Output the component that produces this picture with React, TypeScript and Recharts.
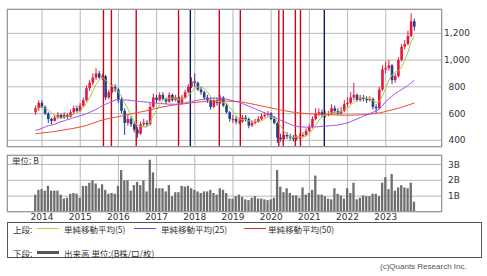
import React from "react";
import {
  ComposedChart,
  Bar,
  Line,
  XAxis,
  YAxis,
  CartesianGrid,
  ReferenceLine,
} from "recharts";

// monthly candles, first one is Nov 2013
const firstMonth = { year: 2013, month: 11 };

const opens = [
  610, 640,
  680, 650, 600, 560, 545, 570, 590, 570, 590, 575, 610, 640,
  620, 660, 700, 790, 830, 870, 900, 870, 880, 720, 760, 800,
  780, 700, 620, 530, 560, 520, 480, 450, 520, 530, 520, 650,
  720, 700, 740, 710, 690, 740, 700, 720, 680, 720, 760, 800,
  840, 830, 780, 760, 720, 700, 650, 700, 680, 720, 660, 610,
  560, 560, 540, 540, 570, 560, 510, 530, 540, 560, 580, 590,
  600, 560, 530, 420, 410, 440, 430, 420, 410, 420, 430, 440,
  470, 500, 560, 600, 610, 590, 590, 600, 640, 620, 600, 620,
  670, 680, 720, 740, 700, 720, 710, 700, 710, 650, 640, 780,
  930, 940, 960, 850, 880, 1000, 1100, 1120, 1180, 1290,
];
const closes = [
  640, 680,
  650, 600, 560, 545, 570, 590, 570, 590, 575, 610, 640, 620,
  660, 700, 790, 830, 870, 900, 870, 880, 720, 760, 800, 780,
  700, 620, 530, 560, 520, 480, 450, 520, 530, 520, 650, 720,
  700, 740, 710, 690, 740, 700, 720, 680, 720, 760, 800, 840,
  830, 780, 760, 720, 700, 650, 700, 680, 720, 660, 610, 560,
  560, 540, 540, 570, 560, 510, 530, 540, 560, 580, 590, 600,
  560, 530, 420, 410, 440, 430, 420, 410, 420, 430, 440, 470,
  500, 560, 600, 610, 590, 590, 600, 640, 620, 600, 620, 670,
  680, 720, 740, 700, 720, 710, 700, 710, 650, 640, 780, 930,
  940, 960, 850, 880, 1000, 1100, 1120, 1180, 1290, 1250,
];
const highs = [
  660, 700,
  700, 660, 610, 570, 590, 610, 600, 610, 600, 630, 660, 660,
  680, 720, 810, 850, 900, 940, 920, 900, 890, 780, 820, 820,
  790, 720, 640, 590, 580, 540, 500, 540, 560, 550, 680, 750,
  740, 760, 760, 720, 760, 750, 740, 730, 740, 780, 820, 870,
  900, 840, 800, 770, 740, 720, 720, 720, 740, 730, 680, 620,
  590, 580, 570, 590, 590, 570, 550, 560, 580, 600, 610, 620,
  610, 580, 540, 450, 460, 460, 450, 440, 440, 450, 460, 490,
  520, 580, 640, 640, 630, 620, 620, 670, 660, 640, 650, 700,
  720, 760, 830, 750, 740, 740, 730, 730, 720, 670, 800, 960,
  990, 1000, 970, 900, 1020, 1120, 1150, 1220, 1350, 1310,
];
const lows = [
  590, 620,
  640, 590, 530, 520, 540, 560, 560, 560, 560, 570, 600, 610,
  610, 650, 690, 770, 810, 850, 860, 850, 700, 710, 750, 760,
  680, 600, 440, 510, 500, 460, 420, 440, 500, 500, 510, 640,
  680, 690, 700, 670, 680, 690, 690, 670, 670, 710, 750, 790,
  800, 770, 740, 700, 680, 630, 640, 660, 670, 650, 600, 540,
  530, 520, 520, 530, 540, 490, 500, 520, 530, 550, 570, 580,
  550, 520, 380, 390, 400, 410, 400, 390, 400, 410, 420, 430,
  460, 490, 550, 580, 570, 570, 580, 590, 600, 590, 590, 610,
  650, 670, 700, 690, 690, 690, 680, 690, 630, 600, 630, 770,
  900, 920, 820, 830, 870, 990, 1080, 1110, 1170, 1220,
];
const ma5 = [
  620, 640,
  650, 640, 625, 605, 585, 575, 565, 575, 580, 585, 595, 605,
  620, 645, 680, 720, 770, 820, 850, 870, 850, 825, 805, 785,
  760, 730, 680, 635, 585, 540, 510, 505, 500, 500, 535, 590,
  625, 665, 705, 710, 715, 715, 710, 705, 710, 715, 735, 760,
  790, 800, 800, 785, 760, 725, 705, 690, 690, 680, 675, 645,
  620, 585, 560, 555, 555, 545, 540, 540, 540, 545, 560, 575,
  575, 570, 540, 505, 470, 445, 425, 420, 425, 425, 425, 435,
  450, 480, 515, 550, 575, 590, 600, 605, 610, 610, 615, 630,
  640, 660, 685, 700, 715, 720, 715, 710, 695, 680, 690, 735,
  790, 850, 890, 910, 920, 950, 1000, 1060, 1140, 1180,
];
const ma25 = [
  475, 480,
  490, 500, 510, 515, 520, 530, 540, 545, 555, 560, 570, 575,
  585, 590, 600, 610, 620, 630, 645, 660, 670, 680, 690, 700,
  705, 705, 702, 700, 698, 695, 692, 690, 688, 685, 682, 680,
  678, 676, 674, 672, 670, 670, 670, 672, 675, 680, 685, 690,
  695, 700, 705, 710, 712, 714, 715, 715, 714, 712, 708, 702,
  695, 690, 685, 675, 665, 655, 645, 635, 625, 615, 605, 595,
  585, 575, 560, 550, 540, 530, 520, 510, 505, 500, 500, 498,
  498, 500, 500, 502, 505, 505, 508, 510, 512, 515, 520, 525,
  530, 540, 550, 560, 570, 580, 590, 600, 610, 620, 635, 660,
  690, 710, 730, 750, 765, 780, 795, 810, 830, 850,
];
const ma50 = [
  450, 452,
  455, 458, 460, 463, 466, 470, 474, 478, 482, 486, 490, 495,
  500, 506, 512, 520, 528, 536, 545, 552, 558, 563, 568, 572,
  577, 582, 587, 592, 597, 602, 607, 612, 617, 622, 628, 634,
  640, 645, 650, 654, 658, 662, 665, 668, 671, 674, 677, 680,
  683, 686, 688, 690, 692, 693, 694, 695, 695, 695, 694, 693,
  692, 690, 688, 685, 681, 677, 672, 667, 662, 657, 652, 647,
  642, 637, 632, 627, 622, 618, 614, 610, 607, 604, 602, 600,
  598, 597, 596, 595, 594, 593, 592, 591, 590, 589, 588, 588,
  588, 588, 589, 590, 591, 592, 594, 596, 598, 601, 605, 610,
  616, 622, 628, 634, 640, 647, 655, 663, 671, 680,
];
// volume in billions
const volumes = [
  1.1, 1.4,
  1.45, 1.35, 1.65, 1.35, 1.35, 1.35, 1.1, 0.85, 0.9, 1.15, 1.2, 1.15,
  0.9, 1.65, 1.65, 1.85, 2.0, 1.8, 1.5, 1.75, 1.4, 1.15, 1.2, 1.15,
  1.65, 2.65, 2.0, 2.0, 1.35, 1.7, 1.9, 1.7, 2.0, 1.3, 3.3, 2.5,
  1.5, 1.5, 1.5, 1.3, 1.7, 1.0, 1.25, 1.25, 1.65, 1.6, 1.65, 1.5,
  1.4, 1.3, 1.2, 1.3, 1.3, 1.4, 1.2, 1.1, 1.5, 1.4, 1.2, 0.85,
  0.85, 1.0, 1.1, 0.95, 0.8, 0.75, 0.9, 1.0, 0.85, 0.85, 0.8, 0.75,
  0.8, 0.9, 2.65, 1.6, 1.25, 1.5, 1.2, 1.05, 1.05, 0.9, 1.55, 1.1,
  1.2, 1.4, 2.3, 1.1, 1.1, 1.0, 0.85, 0.8, 1.5, 1.15, 1.05, 0.85,
  1.5, 1.2, 1.85, 0.8, 0.9, 1.05, 1.0, 1.0, 1.15, 1.15, 1.0, 1.85,
  2.2, 1.45, 2.4, 1.35, 1.55, 1.7, 1.55, 1.5, 1.85, 0.65,
];

const years = [2014, 2015, 2016, 2017, 2018, 2019, 2020, 2021, 2022, 2023];
const priceTicks = [400, 600, 800, 1000, 1200];
const volumeTicks = [1, 2, 3];
const redEvents = [
  "2015-08-10", "2015-10-25", "2016-06-19", "2017-07-28", "2018-08-22",
  "2019-03-10", "2020-03-13", "2020-04-25", "2020-08-19", "2020-10-07",
];
const navyEvents = ["2017-11-19", "2021-05-22"];

const UP = "#e8173f";
const DOWN = "#1f3f8f";
const GRID = "#b8b8b8";
const TEXT = "#333";
const NUM_FONT = "'DejaVu Sans', sans-serif";
const JP_FONT = "'Noto Sans CJK JP', sans-serif";

const toIndex = (year: number, month: number, day = 1) =>
  (year - 2014) * 12 + (month - 1) + (day - 1) / 30;
const dateIndex = (s: string) => {
  const [y, m, d] = s.split("-").map(Number);
  return toIndex(y, m, d);
};

const base = toIndex(firstMonth.year, firstMonth.month);
const rows = closes.map((c, k) => ({
  i: base + k,
  open: opens[k],
  close: c,
  high: highs[k],
  low: lows[k],
  range: [lows[k], highs[k]],
  ma5: ma5[k],
  ma25: ma25[k],
  ma50: ma50[k],
  vol: volumes[k],
}));

const yearTicks = years.map((y) => toIndex(y, 1));
const xDomain = [-11, 125.67];

const Candle = (props: any) => {
  const { x, y, width, height, payload } = props;
  if (payload == null || payload.high == null) return null;
  const top = Math.min(y, y + height);
  const h = Math.abs(height);
  const span = payload.high - payload.low || 1;
  const py = (v: number) => top + ((payload.high - v) / span) * h;
  const up = payload.close >= payload.open;
  const color = up ? UP : DOWN;
  const cx = x + width / 2;
  const bTop = py(Math.max(payload.open, payload.close));
  const bBot = py(Math.min(payload.open, payload.close));
  return (
    <g>
      <line x1={cx} x2={cx} y1={top} y2={top + h} stroke={color} strokeWidth={1} />
      <rect x={cx - 1.3} y={bTop} width={2.6} height={Math.max(1, bBot - bTop)} fill={color} />
    </g>
  );
};

const PriceTick = ({ y, payload }: any) => (
  <text x={457} y={y} textAnchor="middle" dominantBaseline="central" fontSize={9} fill={TEXT} fontFamily={NUM_FONT}>
    {payload.value.toLocaleString("en-US")}
  </text>
);

const VolumeTick = ({ y, payload }: any) => (
  <text x={454} y={y} textAnchor="middle" dominantBaseline="central" fontSize={9} fill={TEXT} fontFamily={NUM_FONT}>
    {payload.value}B
  </text>
);

const YearTick = ({ x, payload }: any) => (
  <text x={x} y={70} textAnchor="middle" fontSize={9} fill={TEXT} fontFamily={NUM_FONT}>
    {Math.round(2014 + payload.value / 12)}
  </text>
);

const frame = (left: number, top: number, width: number, height: number): React.CSSProperties => ({
  position: "absolute",
  left,
  top,
  width,
  height,
  border: "1px solid #9a9a9a",
  boxSizing: "border-box",
  pointerEvents: "none",
});

const LegendLine = ({ left, top, color, thick = 1 }: any) => (
  <div style={{ position: "absolute", left: left, top: top - thick / 2, width: 22, height: thick, background: color }} />
);

const legendText = (left: number, top: number): React.CSSProperties => ({
  position: "absolute",
  left,
  top: top - 6,
  fontSize: 8.5,
  lineHeight: "12px",
  color: TEXT,
  fontFamily: JP_FONT,
  whiteSpace: "nowrap",
});

export default function App() {
  return (
    <div style={{ position: "absolute", left: 0, top: 0, width: 487, height: 276, background: "#fff", fontFamily: JP_FONT }}>
      <div style={{ position: "absolute", left: 0, top: 0 }}>
        <ComposedChart width={487} height={150} data={rows} margin={{ top: 9, right: 0, bottom: 3, left: 7 }}>
          <CartesianGrid stroke={GRID} strokeWidth={1} />
          <XAxis dataKey="i" type="number" domain={xDomain} ticks={yearTicks} interval={0} allowDataOverflow hide />
          <YAxis
            orientation="right"
            width={45}
            domain={[350, 1382]}
            ticks={priceTicks}
            interval={0}
            allowDataOverflow
            axisLine={false}
            tickLine={false}
            tick={<PriceTick />}
          />
          {redEvents.map((d) => (
            <ReferenceLine key={d} x={dateIndex(d)} stroke="#d0021b" strokeWidth={1.4} />
          ))}
          {navyEvents.map((d) => (
            <ReferenceLine key={d} x={dateIndex(d)} stroke="#0a1a5c" strokeWidth={1.4} />
          ))}
          <Bar dataKey="range" barSize={3} shape={<Candle />} isAnimationActive={false} />
          <Line dataKey="ma50" stroke="#f04a2a" strokeWidth={1} dot={false} isAnimationActive={false} />
          <Line dataKey="ma25" stroke="#a052e8" strokeWidth={1} dot={false} isAnimationActive={false} />
          <Line dataKey="ma5" stroke="#a6c83a" strokeWidth={1} dot={false} isAnimationActive={false} />
        </ComposedChart>
      </div>
      <div style={frame(7, 9, 435, 138)} />

      <div style={{ position: "absolute", left: 0, top: 150 }}>
        <ComposedChart width={487} height={80} data={rows} margin={{ top: 5, right: 0, bottom: 0, left: 7 }}>
          <CartesianGrid stroke={GRID} strokeWidth={1} />
          <XAxis
            dataKey="i"
            type="number"
            domain={xDomain}
            ticks={yearTicks}
            interval={0}
            allowDataOverflow
            height={18}
            axisLine={false}
            tickLine={false}
            tick={<YearTick />}
          />
          <YAxis
            orientation="right"
            width={45}
            domain={[0, 3.6]}
            ticks={volumeTicks}
            interval={0}
            allowDataOverflow
            axisLine={false}
            tickLine={false}
            tick={<VolumeTick />}
          />
          <Bar dataKey="vol" barSize={2.3} fill="#6e6e6e" isAnimationActive={false} />
        </ComposedChart>
      </div>
      <div style={frame(7, 155, 435, 57)} />
      <div style={{ ...legendText(12, 160), fontSize: 8.5 }}>単位: B</div>

      <div style={{ position: "absolute", left: 7, top: 222, width: 475, height: 36, border: "1px solid #555", boxSizing: "border-box" }} />
      <div style={legendText(13, 228.5)}>上段:</div>
      <LegendLine left={37} top={228.5} color="#c8c83a" />
      <div style={legendText(64, 228.5)}>単純移動平均(5)</div>
      <LegendLine left={134} top={228.5} color="#7a3ee0" />
      <div style={legendText(161, 228.5)}>単純移動平均(25)</div>
      <LegendLine left={244} top={228.5} color="#e03020" />
      <div style={legendText(268, 228.5)}>単純移動平均(50)</div>
      <div style={legendText(13, 252.5)}>下段:</div>
      <LegendLine left={37} top={252.5} color="#555" thick={3} />
      <div style={legendText(64, 252.5)}>出来高 単位:(B株/口/枚)</div>

      <div style={{ position: "absolute", left: 380, top: 262, fontSize: 8, color: "#555", fontFamily: "'Liberation Sans', sans-serif", whiteSpace: "nowrap" }}>
        (c)Quants Research Inc.
      </div>
    </div>
  );
}
